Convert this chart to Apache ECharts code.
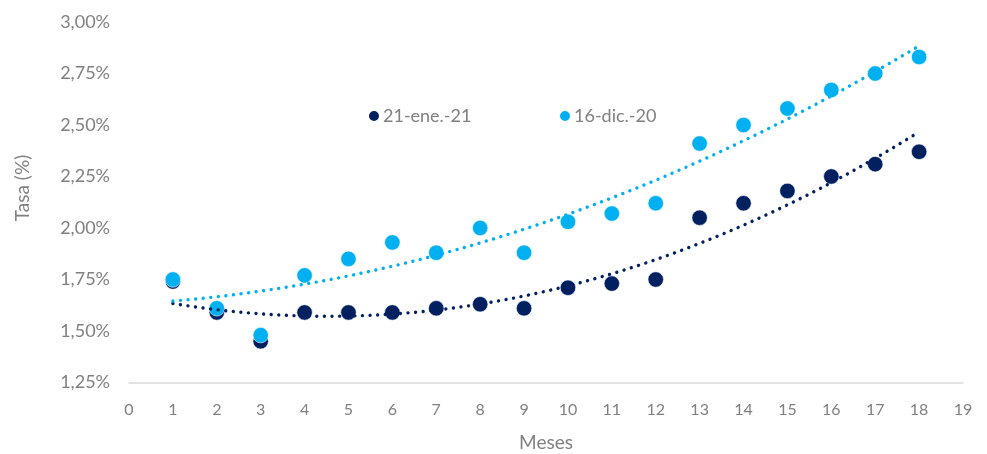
<!DOCTYPE html>
<html>
<head>
<meta charset="utf-8">
<script src="https://cdn.jsdelivr.net/npm/echarts@6/dist/echarts.min.js"></script>
<style>
  html, body { margin: 0; padding: 0; background: #fff; }
  #chart { width: 987px; height: 454px; }
</style>
</head>
<body>
<div id="chart"></div>
<script>
// Plazo en meses
const meses = [1, 2, 3, 4, 5, 6, 7, 8, 9, 10, 11, 12, 13, 14, 15, 16, 17, 18];
// Tasas (%) por fecha de curva
const tasasEne21 = [1.74, 1.59, 1.45, 1.59, 1.59, 1.59, 1.61, 1.63, 1.61, 1.71, 1.73, 1.75, 2.05, 2.12, 2.18, 2.25, 2.31, 2.37];
const tasasDic20 = [1.75, 1.61, 1.48, 1.77, 1.85, 1.93, 1.88, 2.00, 1.88, 2.03, 2.07, 2.12, 2.41, 2.50, 2.58, 2.67, 2.75, 2.83];
const nombreEne21 = '21-ene.-21';
const nombreDic20 = '16-dic.-20';
const tituloX = 'Meses';
const tituloY = 'Tasa (%)';

const colorEne21 = '#002060';
const colorDic20 = '#00b0f0';
const gris = '#808080';
const fuente = 'Lato';

// Ajuste polinómico de grado 2 por mínimos cuadrados (línea de tendencia)
function ajusteCuadratico(xs, ys) {
  const S = [0, 0, 0, 0, 0];
  const T = [0, 0, 0];
  for (let i = 0; i < xs.length; i++) {
    let p = 1;
    for (let k = 0; k < 5; k++) { S[k] += p; p *= xs[i]; }
    T[0] += ys[i]; T[1] += ys[i] * xs[i]; T[2] += ys[i] * xs[i] * xs[i];
  }
  const A = [[S[0], S[1], S[2], T[0]], [S[1], S[2], S[3], T[1]], [S[2], S[3], S[4], T[2]]];
  for (let c = 0; c < 3; c++) {
    for (let r = c + 1; r < 3; r++) {
      const f = A[r][c] / A[c][c];
      for (let k = c; k < 4; k++) A[r][k] -= f * A[c][k];
    }
  }
  const b = [0, 0, 0];
  for (let r = 2; r >= 0; r--) {
    let s = A[r][3];
    for (let k = r + 1; k < 3; k++) s -= A[r][k] * b[k];
    b[r] = s / A[r][r];
  }
  return b;
}

function tendencia(xs, ys) {
  const b = ajusteCuadratico(xs, ys);
  const puntos = [];
  const x0 = xs[0], x1 = xs[xs.length - 1];
  const pasos = 68;
  for (let i = 0; i <= pasos; i++) {
    const x = x0 + (x1 - x0) * i / pasos;
    puntos.push([x, b[0] + b[1] * x + b[2] * x * x]);
  }
  return puntos;
}

const pares = (ys) => meses.map((m, i) => [m, ys[i]]);

const chart = echarts.init(document.getElementById('chart'), null, { renderer: 'canvas' });

const lineaPunteada = (color) => ({
  color: color,
  width: 3.4,
  type: [0.01, 7.6],
  cap: 'round'
});

const leyenda = (nombre, left) => ({
  data: [nombre],
  left: left,
  top: 102,
  icon: 'circle',
  itemWidth: 12,
  itemHeight: 12,
  itemGap: 0,
  textStyle: { color: gris, fontSize: 18, fontFamily: fuente, padding: [0, 0, 0, -2] }
});

chart.setOption({
  animation: false,
  backgroundColor: '#ffffff',
  textStyle: { fontFamily: fuente },
  grid: { left: 129, right: 24, top: 22, bottom: 71.5, containLabel: false, outerBoundsMode: 'none' },
  legend: [leyenda(nombreEne21, 362), leyenda(nombreDic20, 553)],
  graphic: [{
    type: 'text',
    x: 23,
    y: 188,
    rotation: Math.PI / 2,
    style: {
      text: tituloY,
      fill: gris,
      font: '19px ' + fuente,
      align: 'center',
      verticalAlign: 'middle'
    },
    silent: true
  }],
  xAxis: {
    type: 'value',
    min: 0,
    max: 19,
    interval: 1,
    name: tituloX,
    nameLocation: 'middle',
    nameGap: 51,
    nameTextStyle: { color: gris, fontSize: 19, fontFamily: fuente },
    axisLine: { show: true, lineStyle: { color: '#d9d9d9', width: 1.5 } },
    axisTick: { show: false },
    splitLine: { show: false },
    axisLabel: { color: gris, fontSize: 16, margin: 19, fontFamily: fuente }
  },
  yAxis: {
    type: 'value',
    min: 1.25,
    max: 3.0,
    interval: 0.25,
    axisLine: { show: false },
    axisTick: { show: false },
    splitLine: { show: false },
    axisLabel: {
      color: gris,
      fontSize: 18,
      margin: 19,
      fontFamily: fuente,
      formatter: (v) => v.toFixed(2).replace('.', ',') + '%'
    }
  },
  series: [
    {
      name: nombreEne21,
      type: 'scatter',
      data: pares(tasasEne21),
      symbol: 'circle',
      symbolSize: 15.5,
      itemStyle: { color: colorEne21, opacity: 1, borderColor: '#ffffff', borderWidth: 0.6 },
      z: 2
    },
    {
      name: nombreDic20,
      type: 'scatter',
      data: pares(tasasDic20),
      symbol: 'circle',
      symbolSize: 15.5,
      itemStyle: { color: colorDic20, opacity: 1, borderColor: '#ffffff', borderWidth: 0.6 },
      z: 2
    },
    {
      name: 'Tendencia ' + nombreEne21,
      type: 'line',
      data: tendencia(meses, tasasEne21),
      showSymbol: false,
      lineStyle: lineaPunteada(colorEne21),
      z: 3,
      silent: true
    },
    {
      name: 'Tendencia ' + nombreDic20,
      type: 'line',
      data: tendencia(meses, tasasDic20),
      showSymbol: false,
      lineStyle: lineaPunteada(colorDic20),
      z: 3,
      silent: true
    }
  ]
});
</script>
</body>
</html>
